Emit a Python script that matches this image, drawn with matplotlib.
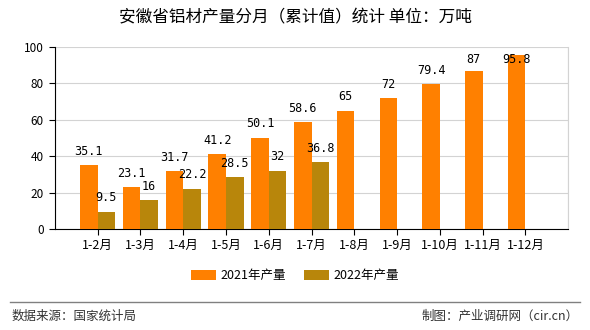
import numpy as np
import matplotlib.pyplot as plt

plt.rcParams['font.family'] = ['Noto Sans CJK SC', 'DejaVu Sans']

months = ['1-2月', '1-3月', '1-4月', '1-5月', '1-6月', '1-7月', '1-8月',
          '1-9月', '1-10月', '1-11月', '1-12月']
prod_2021 = [35.1, 23.1, 31.7, 41.2, 50.1, 58.6, 65, 72, 79.4, 87, 95.8]
prod_2022 = [9.5, 16, 22.2, 28.5, 32, 36.8]

c2021 = '#FF8000'
c2022 = '#B8860B'

fig = plt.figure(figsize=(5.9, 3.3), dpi=100)
ax = fig.add_axes([0.093, 0.306, 0.87, 0.552])

x = np.arange(1, len(months) + 1)
w = 0.41
b1 = ax.bar(x - w / 2, prod_2021, width=w, color=c2021, label='2021年产量', zorder=3)
b2 = ax.bar(x[:len(prod_2022)] + w / 2, prod_2022, width=w, color=c2022,
            label='2022年产量', zorder=3)

# value labels, kept inside the plot area at the top
for xi, v in zip(x, prod_2021):
    ax.text(xi - w / 2, min(v + 4, 89.5), f'{v:g}', ha='center', va='bottom',
            fontsize=8.5, family='DejaVu Sans Mono', zorder=4)
for xi, v in zip(x, prod_2022):
    ax.text(xi + w / 2, v + 4, f'{v:g}', ha='center', va='bottom',
            fontsize=8.5, family='DejaVu Sans Mono', zorder=4)

ax.set_xlim(0, 12)
ax.set_ylim(0, 100)
ax.set_xticks(x)
ax.set_xticklabels(months, fontsize=9)
ax.set_xticks(np.arange(0, 13), minor=True)
ax.set_yticks(np.arange(0, 101, 20))
ax.tick_params(axis='y', labelsize=8.5, length=4.5)
ax.tick_params(axis='x', which='major', length=4)
ax.tick_params(axis='x', which='minor', length=0)
ax.grid(True, which='minor', axis='x', color='#D3D3D3', lw=0.8, zorder=0)
ax.grid(True, which='major', axis='y', color='#D3D3D3', lw=0.8, zorder=0)
ax.spines['top'].set_visible(False)
ax.spines['right'].set_color('#D3D3D3')

fig.text(0.5, 0.945, '安徽省铝材产量分月（累计值）统计 单位：万吨', ha='center', va='center',
         fontsize=12)
fig.legend(handles=[b1, b2], loc='center', bbox_to_anchor=(0.5, 0.165), ncol=2,
           frameon=False, fontsize=9, handlelength=2.0, handleheight=0.9,
           handletextpad=0.4, columnspacing=1.4)

fig.add_artist(plt.Line2D([0.017, 0.983], [0.085, 0.085], color='#808080', lw=1))
fig.text(0.02, 0.042, '数据来源：国家统计局', ha='left', va='center', fontsize=9, color='#333333')
fig.text(0.98, 0.042, '制图：产业调研网（cir.cn）', ha='right', va='center', fontsize=9,
         color='#333333')

fig.savefig('out.png', dpi=100)
